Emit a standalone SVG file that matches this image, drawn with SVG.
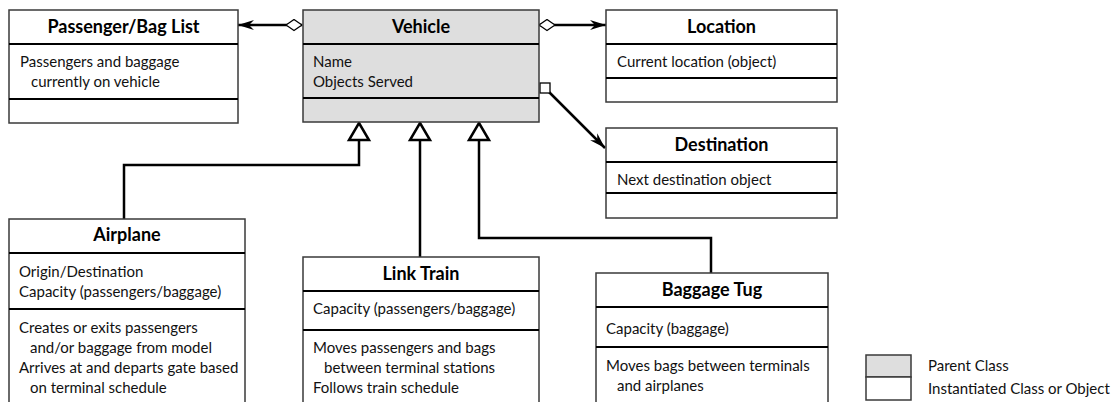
<svg xmlns="http://www.w3.org/2000/svg" width="1115" height="402" viewBox="0 0 1115 402">
  <style>
    .box { fill: #ffffff; stroke: #3a3a3a; stroke-width: 1.5; }
    .parent { fill: #dedede; }
    .div { stroke: #000000; stroke-width: 2; }
    .title { font-family: Lato, "Liberation Sans", sans-serif; font-weight: bold; font-size: 18px; fill: #000; text-anchor: middle; }
    .body { font-family: Lato, "Liberation Sans", sans-serif; font-size: 15px; fill: #111; }
    .conn { fill: none; stroke: #000; stroke-width: 2.5; }
    .gen { fill: #ffffff; stroke: #000; stroke-width: 2.5; stroke-linejoin: miter; }
  </style>
  <defs>
    <marker id="arrow" viewBox="0 0 16 10" refX="16" refY="5" markerWidth="16" markerHeight="10" markerUnits="userSpaceOnUse" orient="auto">
      <path d="M0,0 L16,5 L0,10 L5,5 z" fill="#000"/>
    </marker>
    <marker id="diamond" viewBox="-1 -1 18 13" refX="0" refY="5.5" markerWidth="18" markerHeight="13" markerUnits="userSpaceOnUse" orient="auto">
      <path d="M0,5.5 L8,0 L16,5.5 L8,11 z" fill="#fff" stroke="#000" stroke-width="1.3"/>
    </marker>
  </defs>

  <!-- connectors -->
  <g id="connectors">
    <path class="conn" d="M302,25 L238,25" marker-start="url(#diamond)" marker-end="url(#arrow)"/>
    <path class="conn" d="M539,25 L606,25" marker-start="url(#diamond)" marker-end="url(#arrow)"/>
    <path class="conn" d="M549,92 L605,148" marker-end="url(#arrow)"/>
    <rect x="540" y="83" width="10" height="10" fill="#fff" stroke="#000" stroke-width="1.3"/>
    <path class="conn" d="M359,140 L359,165 L124,165 L124,219"/>
    <path class="conn" d="M420,140 L420,257"/>
    <path class="conn" d="M479,140 L479,238 L711,238 L711,273"/>
    <polygon class="gen" points="359,123 369,140 349,140"/>
    <polygon class="gen" points="420,123 430,140 410,140"/>
    <polygon class="gen" points="479,123 489,140 469,140"/>
  </g>

  <!-- Passenger/Bag List -->
  <g id="passenger-bag-list">
    <rect class="box" x="9" y="10" width="229" height="113"/>
    <line class="div" x1="9" y1="44" x2="238" y2="44"/>
    <line class="div" x1="9" y1="99" x2="238" y2="99"/>
    <text class="title" x="123.5" y="33">Passenger/Bag List</text>
    <text class="body" x="20" y="67">Passengers and baggage</text>
    <text class="body" x="31" y="87">currently on vehicle</text>
  </g>

  <!-- Vehicle (parent class) -->
  <g id="vehicle">
    <rect class="box parent" x="303" y="10" width="236" height="112"/>
    <line class="div" x1="303" y1="44" x2="539" y2="44"/>
    <line class="div" x1="303" y1="98" x2="539" y2="98"/>
    <text class="title" x="421" y="33">Vehicle</text>
    <text class="body" x="313" y="67">Name</text>
    <text class="body" x="313" y="87">Objects Served</text>
  </g>

  <!-- Location -->
  <g id="location">
    <rect class="box" x="606" y="10" width="231" height="92"/>
    <line class="div" x1="606" y1="44" x2="837" y2="44"/>
    <line class="div" x1="606" y1="78" x2="837" y2="78"/>
    <text class="title" x="721.5" y="33">Location</text>
    <text class="body" x="617" y="67">Current location (object)</text>
  </g>

  <!-- Destination -->
  <g id="destination">
    <rect class="box" x="606" y="128" width="231" height="90"/>
    <line class="div" x1="606" y1="162" x2="837" y2="162"/>
    <line class="div" x1="606" y1="193" x2="837" y2="193"/>
    <text class="title" x="721.5" y="151">Destination</text>
    <text class="body" x="617" y="185">Next destination object</text>
  </g>

  <!-- Airplane -->
  <g id="airplane">
    <rect class="box" x="9" y="219" width="236" height="200"/>
    <line class="div" x1="9" y1="253" x2="245" y2="253"/>
    <line class="div" x1="9" y1="309" x2="245" y2="309"/>
    <text class="title" x="127" y="241">Airplane</text>
    <text class="body" x="19" y="277">Origin/Destination</text>
    <text class="body" x="19" y="297">Capacity (passengers/baggage)</text>
    <text class="body" x="19" y="333">Creates or exits passengers</text>
    <text class="body" x="30" y="353">and/or baggage from model</text>
    <text class="body" x="19" y="373">Arrives at and departs gate based</text>
    <text class="body" x="30" y="393">on terminal schedule</text>
  </g>

  <!-- Link Train -->
  <g id="link-train">
    <rect class="box" x="303" y="257" width="236" height="160"/>
    <line class="div" x1="303" y1="291" x2="539" y2="291"/>
    <line class="div" x1="303" y1="330" x2="539" y2="330"/>
    <text class="title" x="421" y="280">Link Train</text>
    <text class="body" x="313" y="314">Capacity (passengers/baggage)</text>
    <text class="body" x="313" y="353">Moves passengers and bags</text>
    <text class="body" x="324" y="373">between terminal stations</text>
    <text class="body" x="313" y="393">Follows train schedule</text>
  </g>

  <!-- Baggage Tug -->
  <g id="baggage-tug">
    <rect class="box" x="596" y="273" width="232" height="145"/>
    <line class="div" x1="596" y1="307" x2="828" y2="307"/>
    <line class="div" x1="596" y1="347" x2="828" y2="347"/>
    <text class="title" x="712" y="296">Baggage Tug</text>
    <text class="body" x="606" y="334">Capacity (baggage)</text>
    <text class="body" x="606" y="371">Moves bags between terminals</text>
    <text class="body" x="617" y="391">and airplanes</text>
  </g>

  <!-- Legend -->
  <g id="legend">
    <rect class="box parent" x="866" y="355" width="45" height="22"/>
    <rect class="box" x="866" y="377" width="45" height="23"/>
    <text class="body" x="928" y="371">Parent Class</text>
    <text class="body" x="928" y="394">Instantiated Class or Object</text>
  </g>
</svg>
